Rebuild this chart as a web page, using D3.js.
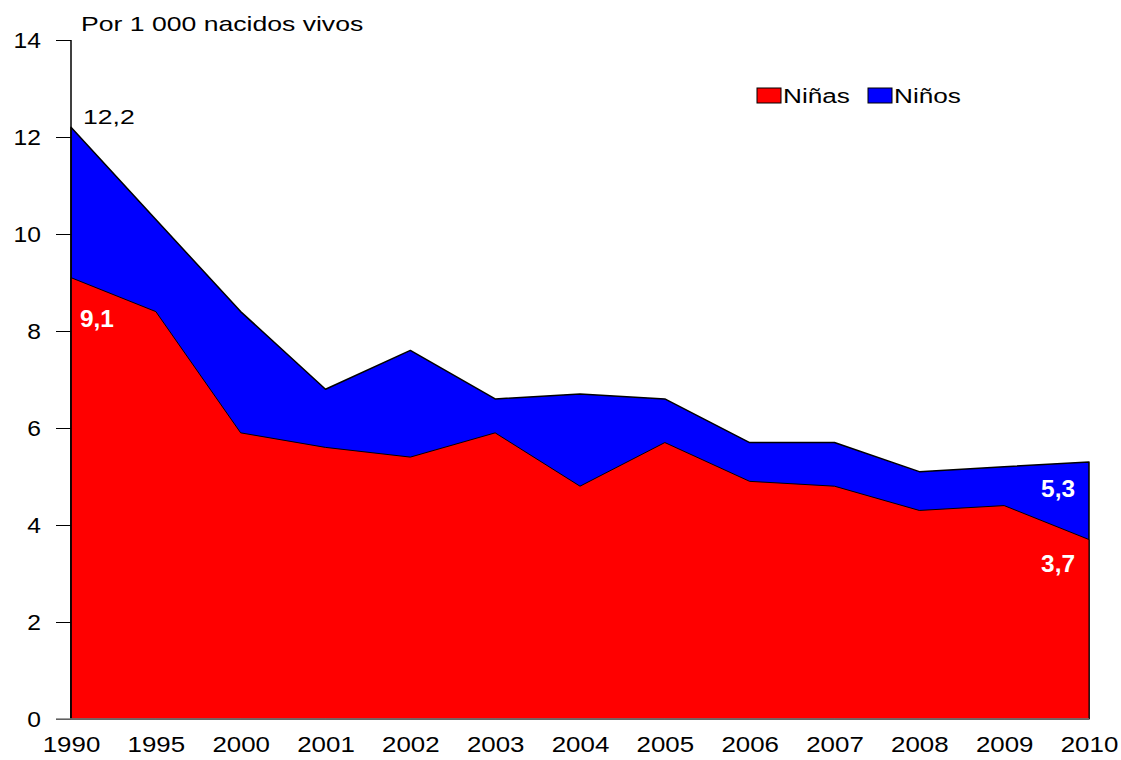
<!DOCTYPE html>
<html>
<head>
<meta charset="utf-8">
<script src="https://cdn.jsdelivr.net/npm/d3@7"></script>
<style>
  html, body { margin: 0; padding: 0; background: #fff; }
  svg { display: block; font-family: "Liberation Sans", Arial, sans-serif; }
</style>
</head>
<body>
<svg id="chart" width="1121" height="760"></svg>
<script>
// Infant mortality rate per 1 000 live births, by sex
const years = ["1990", "1995", "2000", "2001", "2002", "2003", "2004", "2005", "2006", "2007", "2008", "2009", "2010"];
const ninos = [12.2, 10.3, 8.4, 6.8, 7.6, 6.6, 6.7, 6.6, 5.7, 5.7, 5.1, 5.2, 5.3];
const ninas = [9.1, 8.4, 5.9, 5.6, 5.4, 5.9, 4.8, 5.7, 4.9, 4.8, 4.3, 4.4, 3.7];
const yTicks = [0, 2, 4, 6, 8, 10, 12, 14];

const svg = d3.select("#chart");
const plotLeft = 71, plotRight = 1089, plotTop = 40, plotBottom = 719;

const x = d3.scalePoint().domain(years).range([plotLeft, plotRight]);
const y = d3.scaleLinear().domain([0, 14]).range([plotBottom, plotTop]);

// Widen glyphs horizontally while keeping each text's anchor point in place
function stretch(sel, k) {
  sel.each(function () {
    const t = d3.select(this);
    const ax = +(t.attr("x") || 0);
    t.attr("transform", `translate(${ax * (1 - k)},0) scale(${k},1)`);
  });
  return sel;
}

const area = vals => d3.area()
  .x((d, i) => x(years[i]))
  .y0(y(0))
  .y1(d => y(d))(vals);

// Boys' series drawn first, girls' series overlaid in front
svg.append("path").attr("d", area(ninos))
  .attr("fill", "#0000ff").attr("stroke", "#000").attr("stroke-width", 1.5)
  .attr("stroke-linejoin", "round");
svg.append("path").attr("d", area(ninas))
  .attr("fill", "#ff0000").attr("stroke", "#000").attr("stroke-width", 1)
  .attr("stroke-linejoin", "round");

// Y axis
const yAxis = svg.append("g").attr("transform", `translate(${plotLeft},0)`)
  .call(d3.axisLeft(y).tickValues(yTicks).tickSize(15).tickPadding(15).tickFormat(d3.format("d")));
yAxis.select(".domain").attr("stroke", "#000").attr("stroke-width", 1.5).attr("d", `M0,${plotTop}V${plotBottom}`);
yAxis.selectAll(".tick line").attr("stroke", "#000");
stretch(yAxis.selectAll(".tick text").attr("font-size", 22).attr("fill", "#000")
  .attr("font-family", "Liberation Sans, Arial, sans-serif"), 1.12);

// X axis baseline and labels
const xAxis = svg.append("g").attr("transform", `translate(0,${plotBottom})`)
  .call(d3.axisBottom(x).tickSize(0).tickPadding(17));
xAxis.select(".domain").attr("stroke", "#808080").attr("stroke-width", 1.5).attr("d", `M56,0H${plotRight}`);
stretch(xAxis.selectAll(".tick text").attr("font-size", 22.5).attr("fill", "#000")
  .attr("font-family", "Liberation Sans, Arial, sans-serif"), 1.15);

// Unit label
stretch(svg.append("text").attr("x", 81).attr("y", 31.5).attr("font-size", 20)
  .text("Por 1 000 nacidos vivos"), 1.33);

// Value labels
const fmt = v => v.toFixed(1).replace(".", ",");
const last = years.length - 1;
stretch(svg.append("text").attr("x", x(years[0]) + 12).attr("y", y(ninos[0]) - 3.5)
  .attr("font-size", 20).text(fmt(ninos[0])), 1.33);
stretch(svg.append("text").attr("x", x(years[0]) + 9).attr("y", y(ninas[0]) + 49.5)
  .attr("font-size", 23).attr("font-weight", "bold").attr("fill", "#fff")
  .text(fmt(ninas[0])), 1.06);
stretch(svg.append("text").attr("x", x(years[last]) - 14).attr("y", y(ninos[last]) + 35)
  .attr("text-anchor", "end").attr("font-size", 23).attr("font-weight", "bold").attr("fill", "#fff")
  .text(fmt(ninos[last])), 1.06);
stretch(svg.append("text").attr("x", x(years[last]) - 14).attr("y", y(ninas[last]) + 32)
  .attr("text-anchor", "end").attr("font-size", 23).attr("font-weight", "bold").attr("fill", "#fff")
  .text(fmt(ninas[last])), 1.06);

// Legend
const legend = [{ name: "Niñas", color: "#ff0000", x: 757 }, { name: "Niños", color: "#0000ff", x: 868 }];
const lg = svg.append("g").selectAll("g").data(legend).join("g")
  .attr("transform", d => `translate(${d.x},88)`);
lg.append("rect").attr("width", 24).attr("height", 15).attr("fill", d => d.color)
  .attr("stroke", "#000").attr("stroke-width", 1);
stretch(lg.append("text").attr("x", 26).attr("y", 14.5).attr("font-size", 20).text(d => d.name), 1.31);
</script>
</body>
</html>
